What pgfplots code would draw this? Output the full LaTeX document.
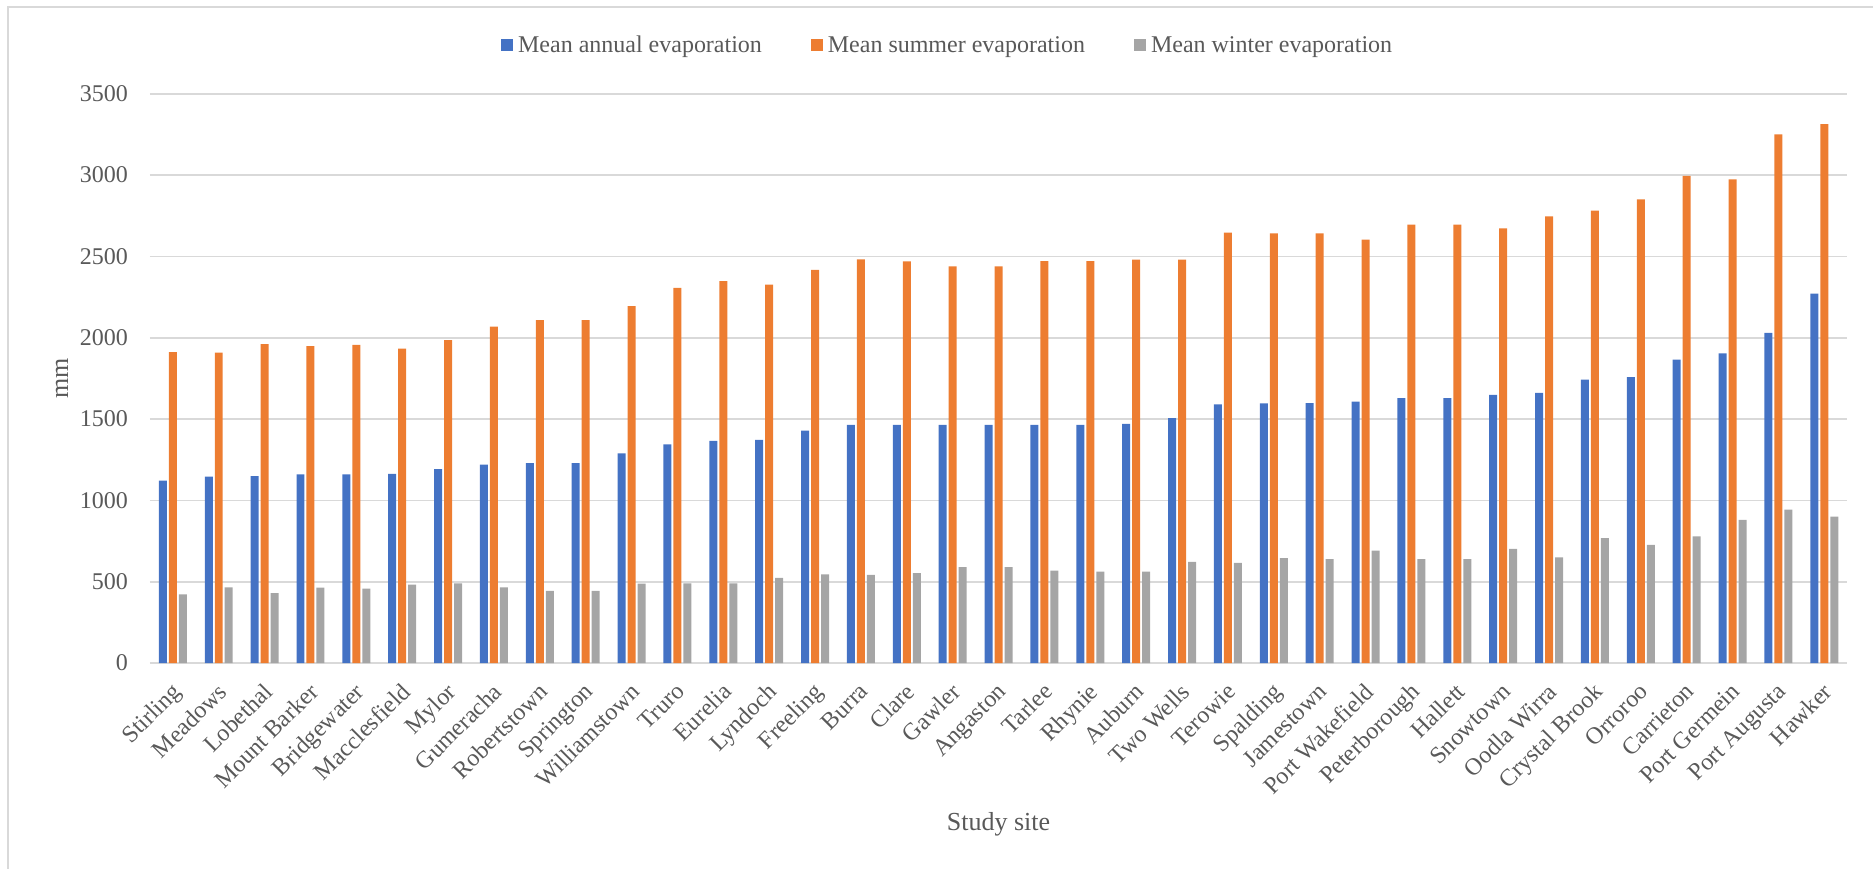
\documentclass[border=0pt]{standalone}
\usepackage{pgfplots}
\pgfplotsset{compat=1.18}
\usepackage{pgfplotstable}
\usepackage{fontspec}
\setmainfont{Liberation Serif}

\definecolor{annualblue}{HTML}{4472C4}
\definecolor{summerorange}{HTML}{ED7D31}
\definecolor{wintergray}{HTML}{A5A5A5}
\definecolor{gridgray}{HTML}{D9D9D9}
\definecolor{textgray}{HTML}{595959}

% Mean evaporation (mm) per study site, sites indexed 0..36
\pgfplotstableread{
x  annual summer winter
0  1122 1912 422
1  1147 1909 466
2  1149 1961 431
3  1160 1948 464
4  1160 1956 458
5  1163 1934 483
6  1193 1986 491
7  1221 2068 466
8  1229 2109 444
9  1229 2109 444
10 1289 2194 488
11 1344 2307 491
12 1366 2348 491
13 1372 2326 524
14 1429 2417 546
15 1465 2482 543
16 1465 2469 554
17 1465 2439 590
18 1465 2439 590
19 1465 2471 568
20 1465 2471 562
21 1470 2480 562
22 1506 2480 623
23 1591 2647 617
24 1596 2641 645
25 1599 2641 639
26 1607 2603 691
27 1629 2696 639
28 1629 2696 639
29 1649 2672 702
30 1662 2746 650
31 1742 2781 768
32 1758 2850 727
33 1865 2995 779
34 1904 2973 881
35 2030 3250 944
36 2271 3314 900
}\evap

\begin{document}
\begin{tikzpicture}
\path (0pt,0pt) rectangle (1874pt,869pt);
\draw[gridgray, line width=1.5pt] (8pt,0pt) -- (8pt,862pt) -- (1874pt,862pt);
\begin{axis}[
  at={(150pt,205.6pt)}, anchor=south west,
  scale only axis, width=1698pt, height=569.6pt,
  ybar=2pt, bar width=8pt,
  xmin=-0.5, xmax=36.5, ymin=0, ymax=3500,
  ytick={0,500,...,3500},
  xtick={0,...,36},
  xticklabels={Stirling,Meadows,Lobethal,Mount Barker,Bridgewater,Macclesfield,Mylor,Gumeracha,Robertstown,Springton,Williamstown,Truro,Eurelia,Lyndoch,Freeling,Burra,Clare,Gawler,Angaston,Tarlee,Rhynie,Auburn,Two Wells,Terowie,Spalding,Jamestown,Port Wakefield,Peterborough,Hallett,Snowtown,Oodla Wirra,Crystal Brook,Orroroo,Carrieton,Port Germein,Port Augusta,Hawker},
  major tick length=0pt,
  axis line style={draw=none},
  ymajorgrids,
  major grid style={gridgray, line width=1.5pt},
  /pgf/number format/assume math mode=true,
  /pgf/number format/1000 sep={},
  tick label style={font=\fontsize{24}{28}\selectfont, text=textgray},
  yticklabel style={inner sep=0pt, anchor=east, xshift=-22pt},
  xticklabel style={inner sep=0pt, xshift=-2.6pt, yshift=-18.3pt, rotate=45, anchor=north east},
  ylabel={mm},
  xlabel={Study site},
  every axis y label/.style={at={(axis description cs:0,0.5)}, xshift=-88pt, rotate=90, anchor=center, font=\fontsize{26}{30}\selectfont, text=textgray},
  every axis x label/.style={at={(axis description cs:0.5,0)}, yshift=-161.6pt, anchor=center, font=\fontsize{26}{30}\selectfont, text=textgray},
  legend columns=3,
  legend style={draw=none, fill=none, at={(axis description cs:0.4694,1)}, yshift=48.75pt, anchor=center,
    font=\fontsize{24}{28}\selectfont, text=textgray,
    nodes={inner sep=0pt},
    /tikz/every odd column/.append style={column sep=5pt},
    /tikz/every even column/.append style={column sep=49pt}},
  legend image code/.code={\path[#1, draw=none] (0pt,-6pt) rectangle (12pt,6pt);},
]
\addplot[fill=annualblue, draw=none] table[x=x, y=annual] {\evap};
\addplot[fill=summerorange, draw=none] table[x=x, y=summer] {\evap};
\addplot[fill=wintergray, draw=none] table[x=x, y=winter] {\evap};
\legend{Mean annual evaporation, Mean summer evaporation, Mean winter evaporation}
\end{axis}
\end{tikzpicture}
\end{document}
